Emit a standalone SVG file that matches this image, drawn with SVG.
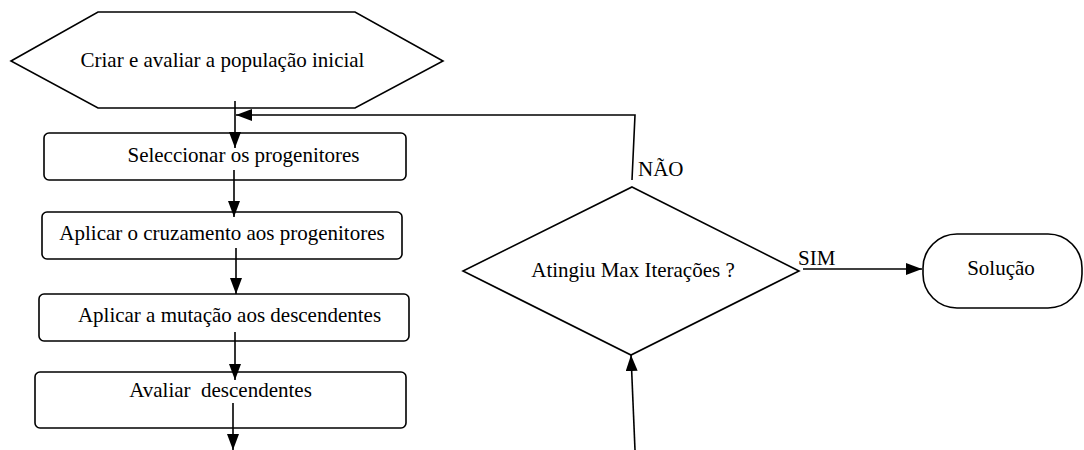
<svg xmlns="http://www.w3.org/2000/svg" width="1084" height="450" viewBox="0 0 1084 450">
  <style>
    .shape { fill: #ffffff; stroke: #000000; stroke-width: 1.6; }
    .label { font-family: "Liberation Serif", "Times New Roman", serif; font-size: 21px; fill: #000000; white-space: pre; }
    .mid { text-anchor: middle; }
    .link { fill: none; stroke: #000000; stroke-width: 1.6; }
    .arrow { marker-end: url(#head); }
  </style>
  <defs>
    <marker id="head" markerUnits="userSpaceOnUse" markerWidth="16" markerHeight="12" refX="16" refY="6" orient="auto">
      <path d="M0,0 L16,6 L0,12 z" fill="#000000"/>
    </marker>
  </defs>

  <rect width="1084" height="450" fill="#ffffff"/>

  <!-- start: preparation hexagon -->
  <g id="start">
    <polygon class="shape" points="11,61 98,12 355,12 443,61 355,108 98,108"/>
    <text class="label mid" x="222.5" y="67">Criar e avaliar a população inicial</text>
  </g>

  <!-- process steps -->
  <g id="select">
    <rect class="shape" x="44" y="133" width="362" height="47" rx="5"/>
    <text class="label mid" x="243.5" y="162">Seleccionar os progenitores</text>
  </g>
  <g id="crossover">
    <rect class="shape" x="42" y="212" width="360" height="47" rx="5"/>
    <text class="label mid" x="222" y="240">Aplicar o cruzamento aos progenitores</text>
  </g>
  <g id="mutation">
    <rect class="shape" x="39" y="294" width="370" height="47" rx="5"/>
    <text class="label mid" x="229.5" y="322">Aplicar a mutação aos descendentes</text>
  </g>
  <g id="evaluate">
    <rect class="shape" x="35" y="372" width="371" height="56" rx="5"/>
    <text class="label mid" x="220.5" y="397">Avaliar  descendentes</text>
  </g>

  <!-- stop condition -->
  <g id="decision">
    <polygon class="shape" points="632,187 799,271 631,355 463,271"/>
    <text class="label mid" x="633" y="277">Atingiu Max Iterações ?</text>
  </g>

  <!-- end terminal -->
  <g id="solution">
    <rect class="shape" x="923" y="234" width="159" height="74" rx="34"/>
    <text class="label mid" x="1001" y="275">Solução</text>
  </g>

  <!-- connectors -->
  <g id="connectors">
    <path class="link arrow" d="M235,101 L235,148"/>
    <path class="link arrow" d="M632,180 L635,115 L236,115"/>
    <path class="link arrow" d="M234,170 L234,217"/>
    <path class="link arrow" d="M236,248 L236,294"/>
    <path class="link arrow" d="M235,332 L235,380"/>
    <path class="link arrow" d="M233,403 L233,450"/>
    <path class="link arrow" d="M635,450 L631,355"/>
    <path class="link arrow" d="M803,269 L922,269"/>
    <text class="label" x="638" y="176">NÃO</text>
    <text class="label" x="798" y="265">SIM</text>
  </g>
</svg>
